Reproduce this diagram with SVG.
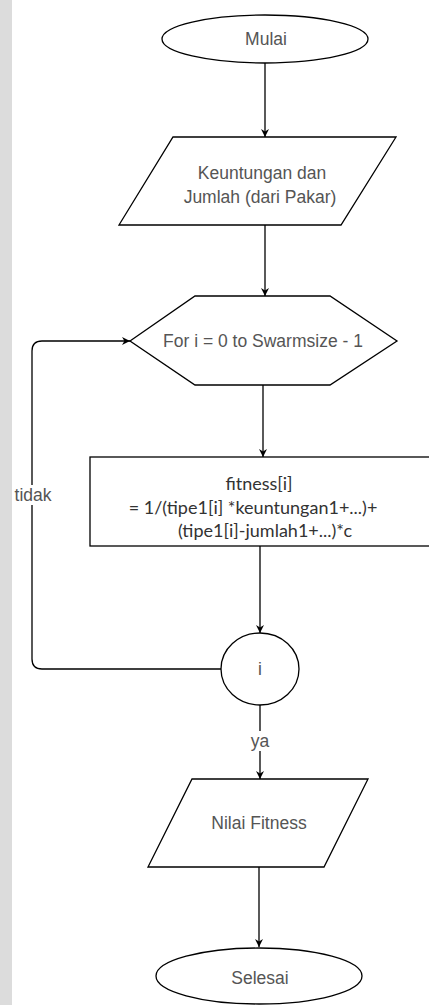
<svg xmlns="http://www.w3.org/2000/svg" width="429" height="1005" viewBox="0 0 429 1005">
<style>
.s{fill:#fff;stroke:#000;stroke-width:1.3}
.t{font-family:"Liberation Sans",Arial,sans-serif;font-size:17.5px;fill:#555;text-anchor:middle;dominant-baseline:central}
.c{font-family:Lato,"Open Sans",sans-serif;font-size:18px;fill:#333;text-anchor:middle;dominant-baseline:central}
.e{fill:none;stroke:#000;stroke-width:1.3}
</style>
<defs>
<marker id="a" viewBox="0 0 10 10" refX="10" refY="5" markerWidth="8" markerHeight="8" markerUnits="userSpaceOnUse" orient="auto">
<path d="M0,0 L10,5 L0,10 L3,5 Z" fill="#000"/>
</marker>
</defs>
<rect x="0" y="0" width="429" height="1005" fill="#fff"/>
<rect x="0" y="0" width="12" height="1005" fill="#dcdcdc"/>
<g id="connectors">
<path class="e" d="M265,63 V137" marker-end="url(#a)"/>
<path class="e" d="M265,225 V296" marker-end="url(#a)"/>
<path class="e" d="M263,385 V457" marker-end="url(#a)"/>
<path class="e" d="M260,546 V633" marker-end="url(#a)"/>
<path class="e" d="M221,669 H42 Q32,669 32,659 V351 Q32,341 42,341 H130" marker-end="url(#a)"/>
<path class="e" d="M260,705 V779" marker-end="url(#a)"/>
<path class="e" d="M259,867 V947" marker-end="url(#a)"/>
<rect x="13" y="485" width="40" height="20" fill="#fff"/>
<text class="t" x="33" y="495">tidak</text>
<rect x="249" y="731" width="22" height="20" fill="#fff"/>
<text class="t" x="260" y="741">ya</text>
</g>
<g id="mulai">
<ellipse class="s" cx="265" cy="39" rx="103" ry="24"/>
<text class="t" x="266" y="39">Mulai</text>
</g>
<g id="input">
<polygon class="s" points="173,137 396,137 341,225 119,225"/>
<text class="t" x="262" y="173">Keuntungan dan</text>
<text class="t" x="260" y="197">Jumlah (dari Pakar)</text>
</g>
<g id="loop">
<polygon class="s" points="130,341 195,296 330,296 397,341 330,385 195,385"/>
<text class="t" x="263" y="341">For i = 0 to Swarmsize - 1</text>
</g>
<g id="fitness">
<rect class="s" x="90" y="457" width="340" height="89"/>
<text class="c" x="259" y="483">fitness[i]</text>
<text class="c" x="253" y="507">= 1/(tipe1[i] *keuntungan1+...)+</text>
<text class="c" x="265" y="530">(tipe1[i]-jumlah1+...)*c</text>
</g>
<g id="cek">
<ellipse class="s" cx="260" cy="669" rx="39" ry="36"/>
<text class="t" x="260" y="669">i</text>
</g>
<g id="output">
<polygon class="s" points="192,779 368,779 324,867 148,867"/>
<text class="t" x="259" y="823">Nilai Fitness</text>
</g>
<g id="selesai">
<ellipse class="s" cx="259" cy="976" rx="103" ry="28"/>
<text class="t" x="260" y="978">Selesai</text>
</g>
</svg>
